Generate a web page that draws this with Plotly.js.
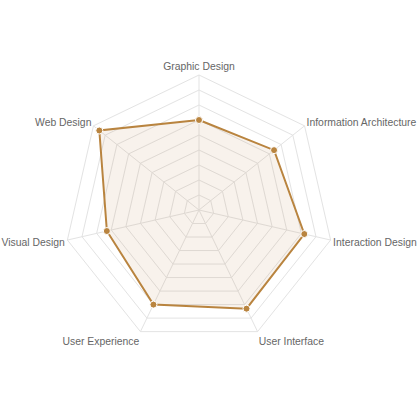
<!DOCTYPE html>
<html><head><meta charset="utf-8">
<script src="https://cdn.plot.ly/plotly-3.0.1.min.js"></script>
<style>html,body{margin:0;padding:0;background:#fff}</style>
</head><body>
<div id="chart" style="width:420px;height:420px"></div>
<script>
const categories = ["Graphic Design","Information Architecture","Interaction Design","User Interface","User Experience","Visual Design","Web Design"];
const values = [60, 64, 72, 73, 70, 63, 85];

const theta = categories.concat([categories[0]]);
const r = values.concat([values[0]]);

Plotly.newPlot('chart', [{
  type: 'scatterpolar',
  r: r,
  theta: theta,
  mode: 'lines+markers',
  fill: 'toself',
  fillcolor: 'rgba(190,140,80,0.11)',
  line: {color: '#b9843f', width: 2},
  marker: {color: '#b9843f', size: 7, line: {color: '#ffffff', width: 1}},
  hoverinfo: 'none'
}], {
  width: 420, height: 420,
  margin: {l: 0, r: 0, t: 0, b: 0},
  showlegend: false,
  paper_bgcolor: '#fff',
  font: {family: 'Liberation Sans, Arial, sans-serif', size: 10.4, color: '#666'},
  polar: {
    domain: {x: [64/420, 334/420], y: [75/420, 345/420]},
    gridshape: 'linear',
    bgcolor: 'rgba(0,0,0,0)',
    radialaxis: {range: [0, 90], dtick: 10, showticklabels: false, ticks: '', showline: false,
      gridcolor: '#e3e3e3', gridwidth: 1},
    angularaxis: {direction: 'clockwise', rotation: 90, ticks: '', linecolor: '#e3e3e3',
      gridcolor: '#e3e3e3', tickfont: {size: 10.4, color: '#666'}}
  }
}, {displayModeBar: false, staticPlot: true});
</script>
</body></html>
